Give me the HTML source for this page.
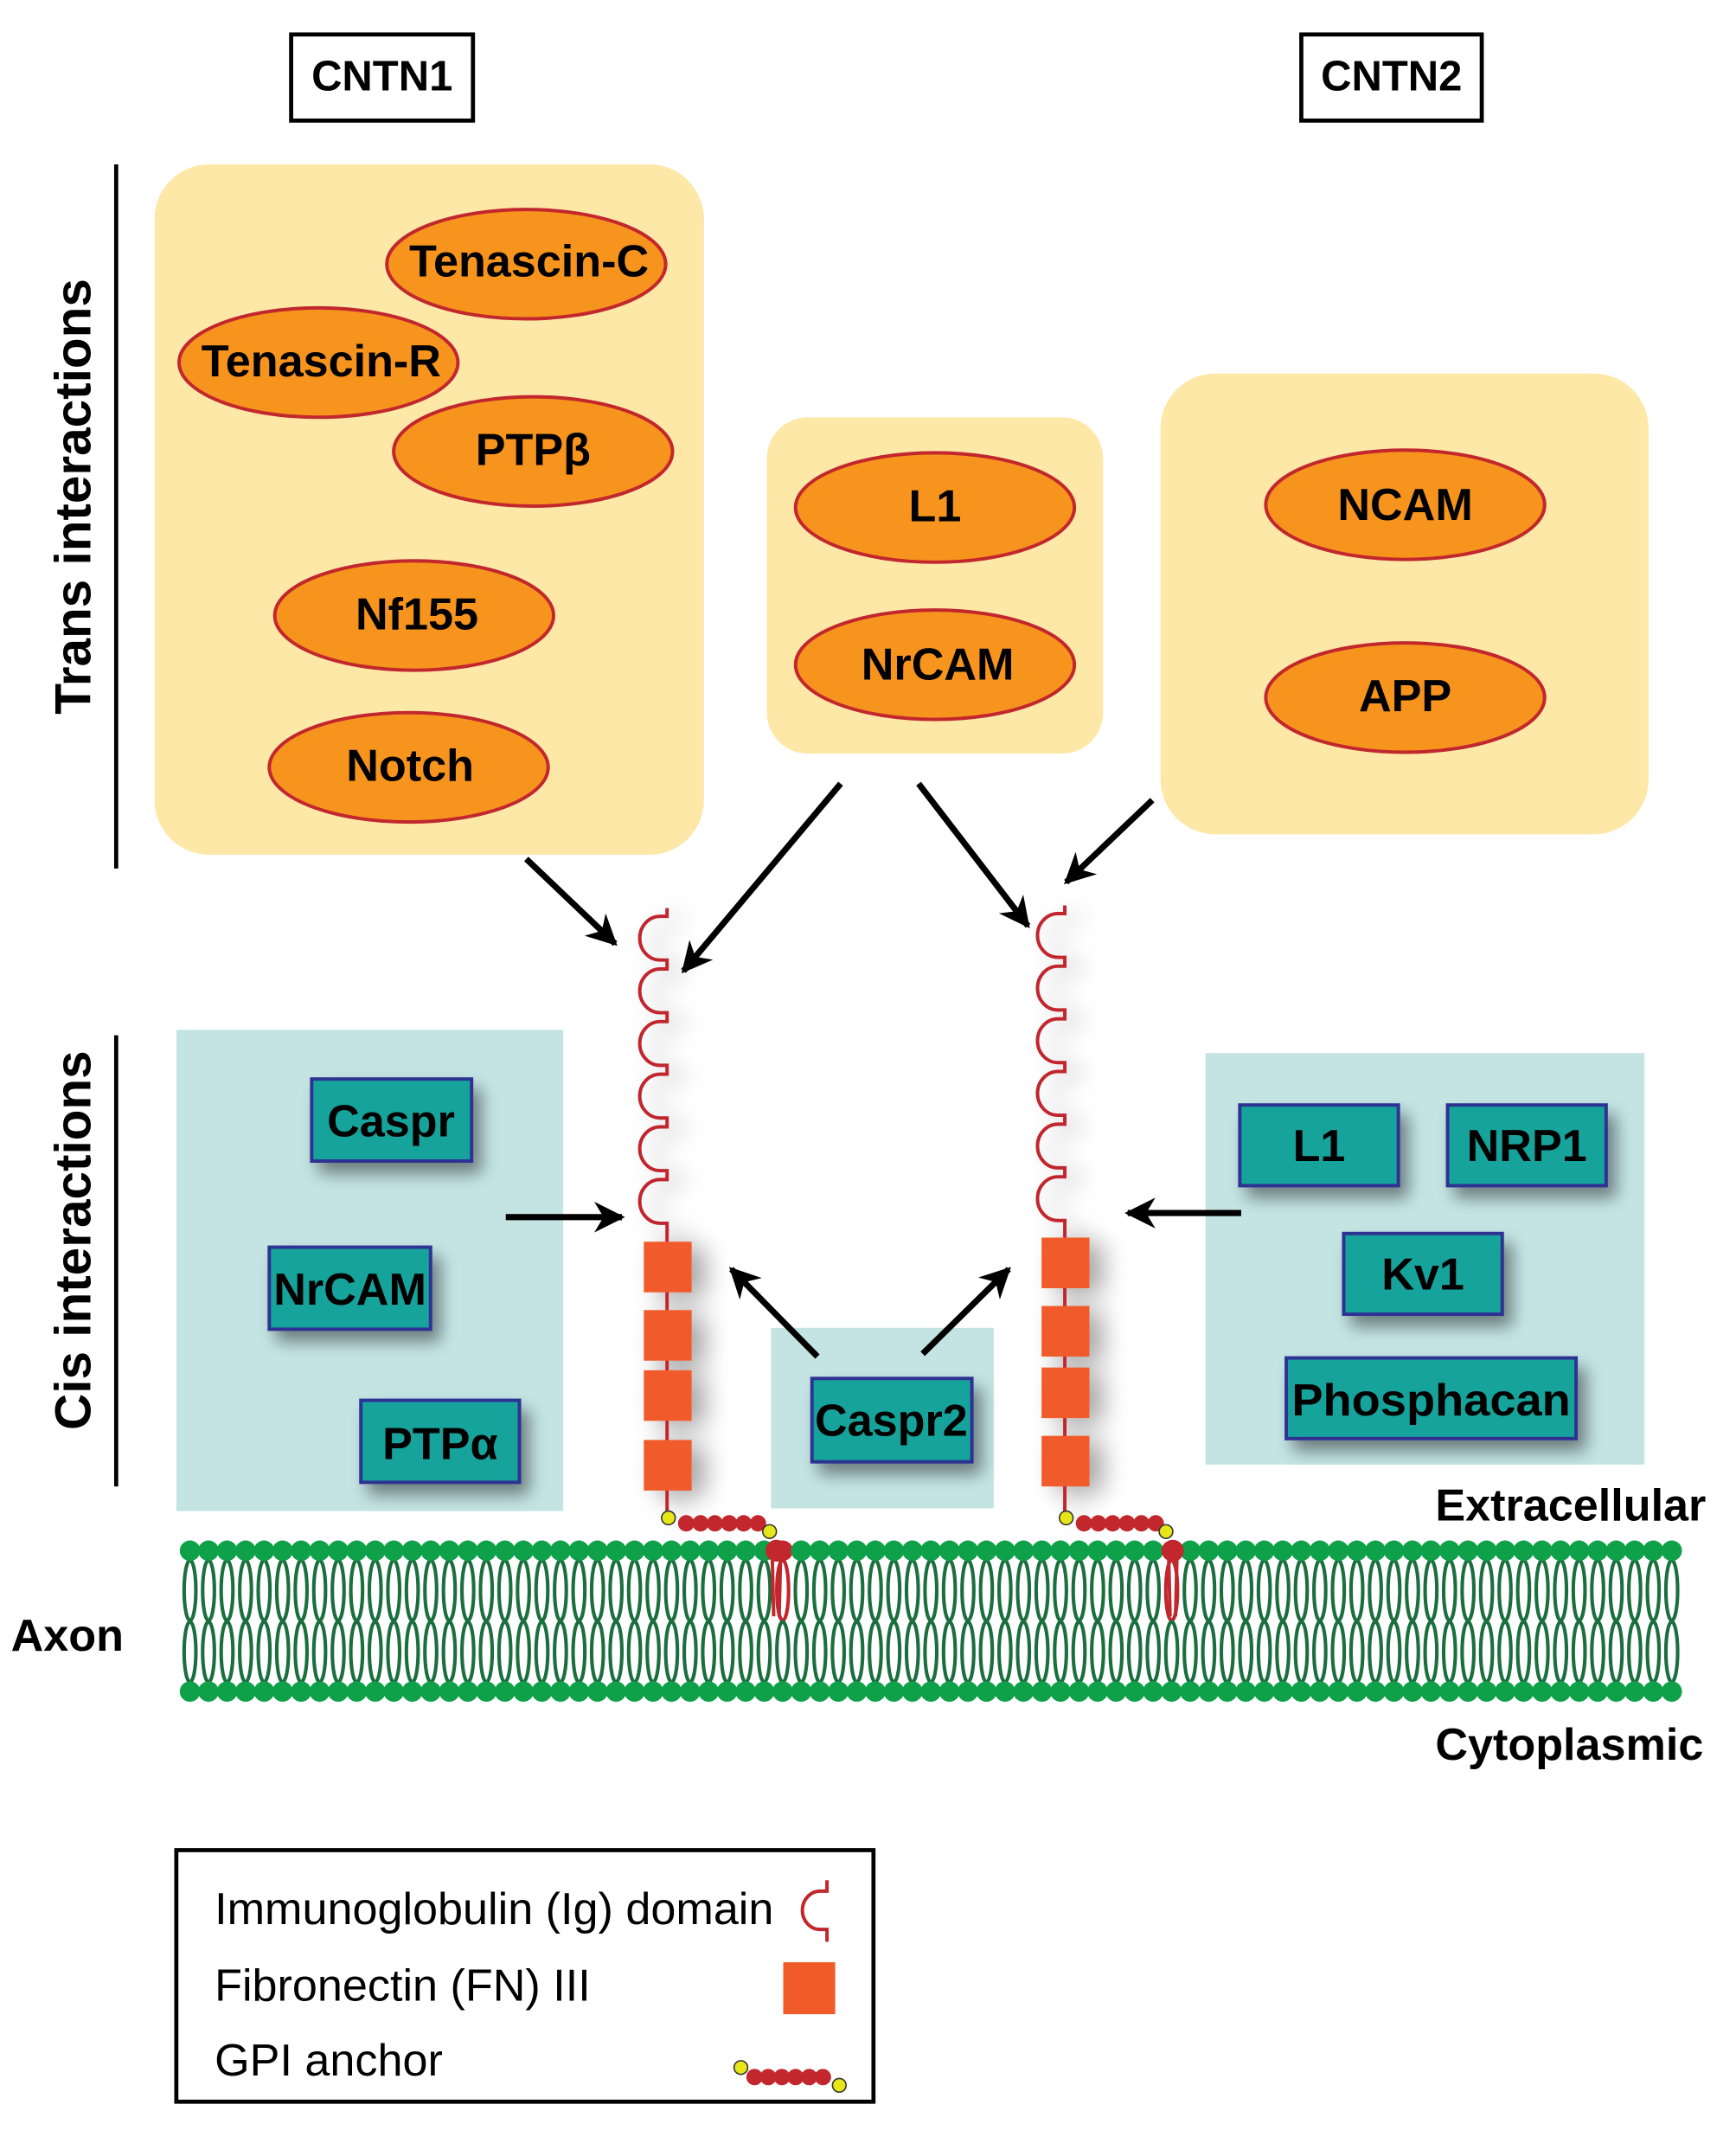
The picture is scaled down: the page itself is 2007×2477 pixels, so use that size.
<!DOCTYPE html>
<html><head><meta charset="utf-8"><style>
html,body{margin:0;padding:0;background:#fff}
svg{display:block}
text{font-family:"Liberation Sans",Arial,sans-serif}
.b{font-weight:bold;fill:#000}
</style></head><body>
<svg id="s" width="2007" height="2477" viewBox="0 0 1270 1567" xmlns="http://www.w3.org/2000/svg">
<defs>
<filter id="sh" x="-30%" y="-30%" width="170%" height="180%"><feGaussianBlur in="SourceAlpha" stdDeviation="6"/><feOffset dx="6" dy="8"/><feComponentTransfer><feFuncA type="linear" slope="0.45"/></feComponentTransfer><feMerge><feMergeNode/><feMergeNode in="SourceGraphic"/></feMerge></filter>
<filter id="sh2" x="-100%" y="-10%" width="400%" height="130%"><feGaussianBlur in="SourceAlpha" stdDeviation="9"/><feOffset dx="10" dy="4"/><feComponentTransfer><feFuncA type="linear" slope="0.35"/></feComponentTransfer><feMerge><feMergeNode/><feMergeNode in="SourceGraphic"/></feMerge></filter>
<marker id="ah" viewBox="0 0 10 10" refX="9" refY="5" markerWidth="5" markerHeight="5" orient="auto"><path d="M0,0 L10,5 L0,10 L3,5 z" fill="#000"/></marker>
</defs>

<rect x="213" y="25" width="133" height="63" fill="#fff" stroke="#000" stroke-width="3"/>
<text x="279.5" y="66" text-anchor="middle" class="b" font-size="31">CNTN1</text>
<rect x="952" y="25" width="132" height="63" fill="#fff" stroke="#000" stroke-width="3"/>
<text x="1018" y="66" text-anchor="middle" class="b" font-size="31">CNTN2</text>

<line x1="85" y1="120" x2="85" y2="635" stroke="#000" stroke-width="3"/>
<line x1="85" y1="757" x2="85" y2="1087" stroke="#000" stroke-width="3"/>
<text transform="translate(66,363) rotate(-90)" text-anchor="middle" class="b" font-size="37">Trans interactions</text>
<text transform="translate(66,907) rotate(-90)" text-anchor="middle" class="b" font-size="37">Cis interactions</text>

<rect x="113" y="120" width="402" height="505" rx="40" fill="#fde8a8"/>
<rect x="561" y="305" width="246" height="246" rx="30" fill="#fde8a8"/>
<rect x="849" y="273" width="357" height="337" rx="40" fill="#fde8a8"/>

<g fill="#f7941d" stroke="#c1272d" stroke-width="2.5">
<ellipse cx="385" cy="193" rx="102" ry="40"/>
<ellipse cx="233" cy="265" rx="102" ry="40"/>
<ellipse cx="390" cy="330" rx="102" ry="40"/>
<ellipse cx="303" cy="450" rx="102" ry="40"/>
<ellipse cx="299" cy="561" rx="102" ry="40"/>
<ellipse cx="684" cy="371" rx="102" ry="40"/>
<ellipse cx="684" cy="486" rx="102" ry="40"/>
<ellipse cx="1028" cy="369" rx="102" ry="40"/>
<ellipse cx="1028" cy="510" rx="102" ry="40"/>
</g>
<g font-size="33" text-anchor="middle">
<text x="387" y="202" class="b">Tenascin-C</text>
<text x="235" y="275" class="b">Tenascin-R</text>
<text x="390" y="340" class="b">PTPβ</text>
<text x="305" y="460" class="b">Nf155</text>
<text x="300" y="571" class="b">Notch</text>
<text x="684" y="381" class="b">L1</text>
<text x="686" y="497" class="b">NrCAM</text>
<text x="1028" y="380" class="b">NCAM</text>
<text x="1028" y="520" class="b">APP</text>
</g>

<rect x="129" y="753" width="283" height="352" fill="#c4e4e4"/>
<rect x="564" y="971" width="163" height="132" fill="#c4e4e4"/>
<rect x="882" y="770" width="321" height="301" fill="#c4e4e4"/>

<g fill="#14a39b" stroke="#2e3192" stroke-width="2.5" filter="url(#sh)">
<rect x="228" y="789" width="117" height="60"/>
<rect x="197" y="912" width="118" height="60"/>
<rect x="264" y="1024" width="116" height="60"/>
<rect x="594" y="1008" width="117" height="61"/>
<rect x="907" y="808" width="116" height="59"/>
<rect x="1059" y="808" width="116" height="59"/>
<rect x="983" y="902" width="116" height="59"/>
<rect x="941" y="993" width="212" height="59"/>
</g>
<g font-size="33" text-anchor="middle">
<text x="286" y="831" class="b">Caspr</text>
<text x="256" y="954" class="b">NrCAM</text>
<text x="322" y="1067" class="b">PTPα</text>
<text x="652" y="1050" class="b">Caspr2</text>
<text x="965" y="849" class="b">L1</text>
<text x="1117" y="849" class="b">NRP1</text>
<text x="1041" y="943" class="b">Kv1</text>
<text x="1047" y="1035" class="b" textLength="204" lengthAdjust="spacingAndGlyphs">Phosphacan</text>
</g>

<g stroke="#000" stroke-width="4.5" marker-end="url(#ah)">
<line x1="385" y1="628" x2="450" y2="690"/>
<line x1="615" y1="573" x2="500" y2="710"/>
<line x1="672" y1="573" x2="752" y2="677"/>
<line x1="843" y1="585" x2="780" y2="645"/>
<line x1="370" y1="890" x2="455" y2="890"/>
<line x1="598" y1="992" x2="535" y2="928"/>
<line x1="675" y1="990" x2="738" y2="928"/>
<line x1="908" y1="887" x2="825" y2="887"/>
</g>

<g id="chains"></g>
<g id="mem"></g>

<text x="1050" y="1112" class="b" font-size="33">Extracellular</text>
<text x="8" y="1207" class="b" font-size="33">Axon</text>
<text x="1050" y="1287" class="b" font-size="33">Cytoplasmic</text>

<rect x="129" y="1353" width="510" height="184" fill="#fff" stroke="#000" stroke-width="3"/>
<text x="157" y="1407" font-size="33">Immunoglobulin (Ig) domain</text>
<text x="157" y="1463" font-size="33">Fibronectin (FN) III</text>
<text x="157" y="1518" font-size="33">GPI anchor</text>
<path d="M605,1375 V1383 H600 A13,14 0 0 0 600,1411 H605 V1420" fill="none" stroke="#c1272d" stroke-width="2.5"/>
<rect x="573" y="1435" width="38" height="38" fill="#f15a29"/>
<g id="lg"></g>
</svg>
<script>
var NS="http://www.w3.org/2000/svg";
function el(p,t,a){var e=document.createElementNS(NS,t);for(var k in a)e.setAttribute(k,a[k]);p.appendChild(e);return e;}
var ch=document.getElementById('chains'),mem=document.getElementById('mem');
function chain(x,y0,boxes,gx){
  var g=el(ch,'g',{filter:'url(#sh2)'});
  var d="M"+x+","+y0;var y=y0+6;
  for(var i=0;i<6;i++){d+=" V"+y+" H"+(x-5)+" A15,16 0 0 0 "+(x-5)+","+(y+32)+" H"+x;y+=38.5;}
  d+=" V"+(boxes[0]);
  el(g,'path',{d:d,fill:'none',stroke:'#c1272d','stroke-width':2.5});
  el(g,'line',{x1:x,y1:boxes[0],x2:x,y2:1110,stroke:'#c1272d','stroke-width':2.5});
  for(var j=0;j<4;j++)el(g,'rect',{x:x-17,y:boxes[j],width:35,height:37,fill:'#f15a29'});
  for(var k=0;k<6;k++)el(ch,'circle',{cx:x+14+k*10.5,cy:1114,r:6,fill:'#c1272d'});
  el(ch,'circle',{cx:x+1,cy:1110,r:5,fill:'#e6e619',stroke:'#333','stroke-width':1});
  el(ch,'circle',{cx:gx-5,cy:1120,r:5,fill:'#e6e619',stroke:'#333','stroke-width':1});
}
chain(488,664,[908,958,1002,1053],568);
chain(779,662,[905,955,1000,1050],858);
var sp=13.55;
for(var cx=139;cx<=1224;cx+=sp){
  var red=(Math.abs(cx-568)<6||Math.abs(cx-858)<6);
  var tc=red?'#c1272d':'#1b6e3e';
  el(mem,'ellipse',{cx:cx,cy:1163,rx:4.3,ry:22,fill:'none',stroke:tc,'stroke-width':2.6});
  el(mem,'ellipse',{cx:cx,cy:1208,rx:4.3,ry:22,fill:'none',stroke:'#1b6e3e','stroke-width':2.6});
  el(mem,'circle',{cx:cx,cy:1134,r:7.5,fill:red?'#c1272d':'#0fa04a'});
  el(mem,'circle',{cx:cx,cy:1237,r:7.5,fill:'#0fa04a'});
}
[568,858].forEach(function(x){el(mem,'circle',{cx:x,cy:1134,r:8,fill:'#c1272d'});el(mem,'path',{d:"M"+(x-3)+",1140 L"+(x-2)+",1182 M"+(x+3)+",1140 L"+(x+2)+",1182",stroke:'#c1272d','stroke-width':2.5,fill:'none'});});
var lg=document.getElementById('lg');
for(var k=0;k<6;k++)el(lg,'circle',{cx:552+k*10,cy:1519,r:6,fill:'#c1272d'});
el(lg,'circle',{cx:542,cy:1512,r:5,fill:'#e6e619',stroke:'#333','stroke-width':1});
el(lg,'circle',{cx:614,cy:1525,r:5,fill:'#e6e619',stroke:'#333','stroke-width':1});
</script>
</body></html>
